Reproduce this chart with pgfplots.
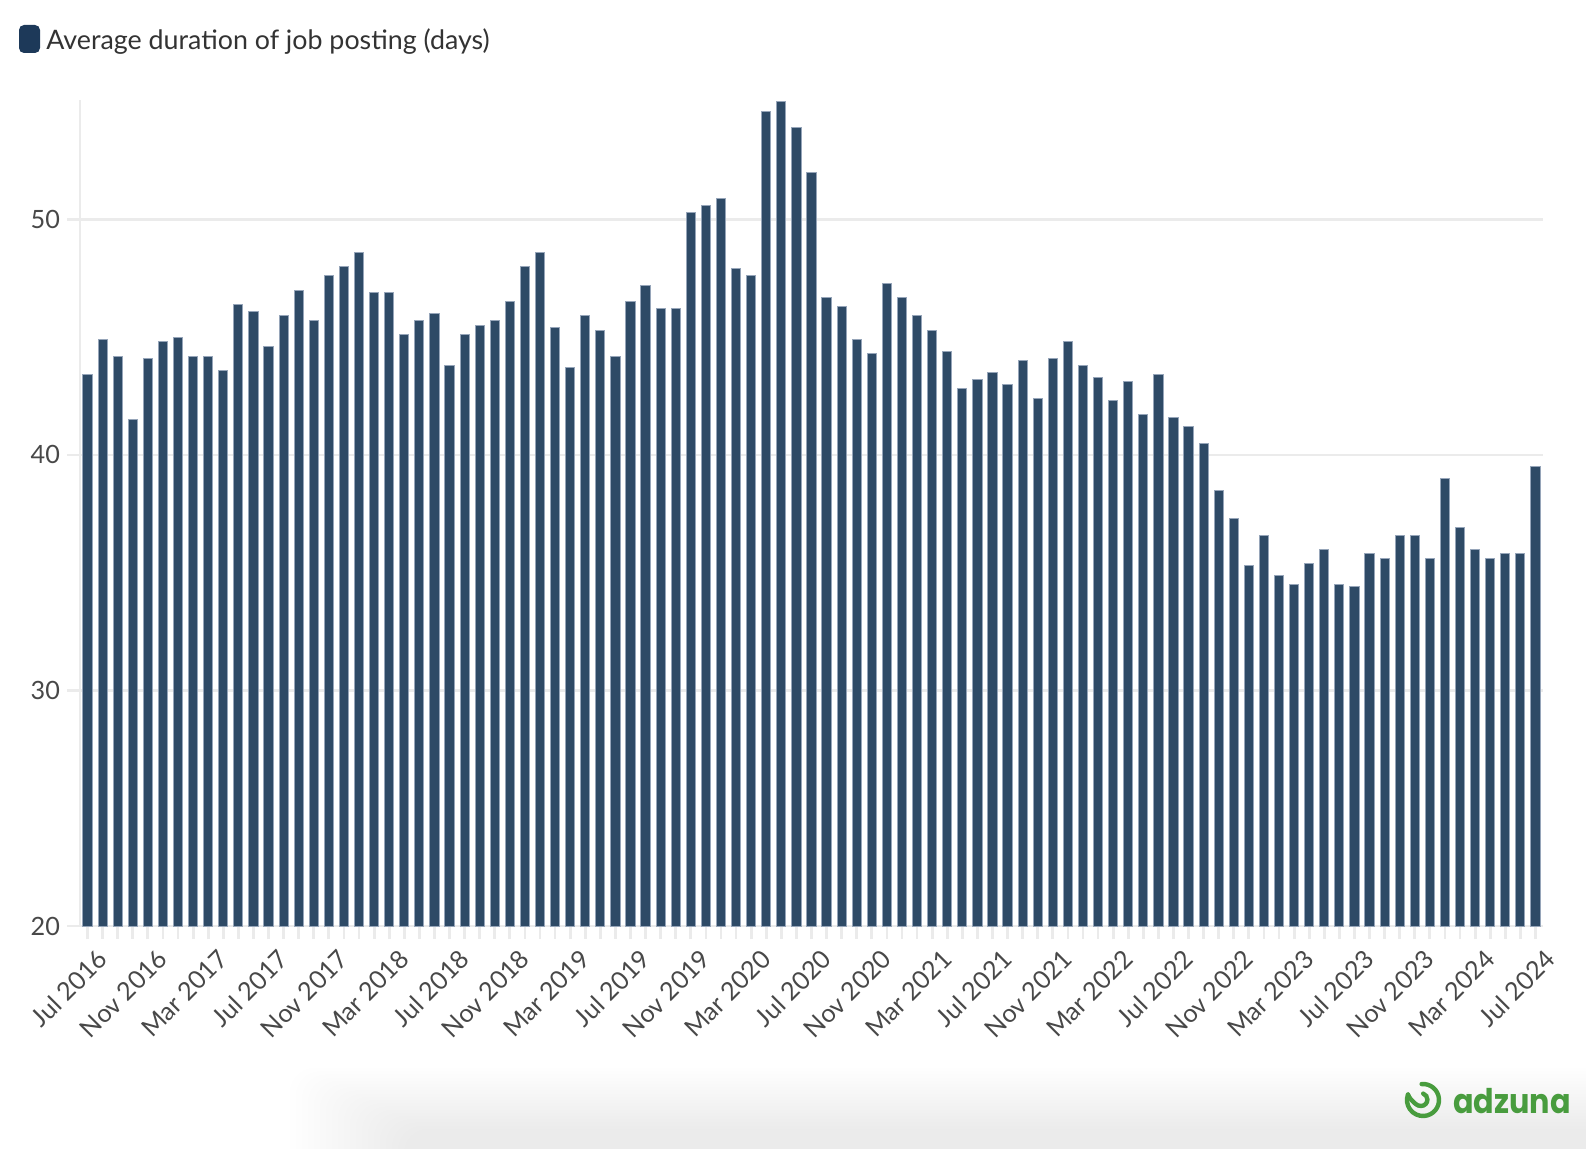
\documentclass[border=0pt]{standalone}
\usepackage{fontspec}
\setmainfont{Lato}
\newfontfamily\logofont{Poppins}[FakeStretch=0.89]
\usepackage{pgfplots}
\pgfplotsset{compat=1.18}
\definecolor{barnavy}{RGB}{46,74,102}
\definecolor{barborder}{RGB}{150,165,185}
\definecolor{legendnavy}{RGB}{29,57,89}
\definecolor{gridgray}{RGB}{235,235,235}
\definecolor{ticktext}{RGB}{72,72,72}
\definecolor{legendtext}{RGB}{51,51,51}
\definecolor{logogreen}{RGB}{72,156,62}
\begin{document}
\begin{tikzpicture}[x=1pt,y=1pt]
\useasboundingbox (0,0) rectangle (793,574);
% soft shadow at the bottom
\foreach \i in {0,...,19}{
  \fill[black, opacity=0.005, rounded corners=12pt] (145+3*\i,-20) rectangle (820,40-1.6*\i);
}
\begin{axis}[
  at={(40pt,111pt)}, anchor=south west,
  scale only axis, width=731.5pt, height=413pt,
  xmin=-0.5, xmax=96.5, ymin=20, ymax=55.07,
  ybar, bar width=4.6pt,
  axis lines*=left,
  axis line style={draw=gridgray, line width=1.4pt},
  ymajorgrids, grid style={draw=gridgray, line width=1.35pt},
  ytick={20,30,40,50},
  xtick={0,4,...,96},
  minor xtick={0,...,96},
  xticklabels={Jul 2016,Nov 2016,Mar 2017,Jul 2017,Nov 2017,Mar 2018,Jul 2018,Nov 2018,Mar 2019,Jul 2019,Nov 2019,Mar 2020,Jul 2020,Nov 2020,Mar 2021,Jul 2021,Nov 2021,Mar 2022,Jul 2022,Nov 2022,Mar 2023,Jul 2023,Nov 2023,Mar 2024,Jul 2024},
  tick align=outside,
  major tick length=6.5pt, minor tick length=6.5pt,
  tick style={draw=gridgray, line width=1.4pt},
  xticklabel style={rotate=45, anchor=north east, font=\fontsize{12.6}{13}\selectfont, text=ticktext, inner sep=1pt, yshift=-5pt, xshift=1pt},
  yticklabel style={font=\fontsize{12.6}{13}\selectfont, text=ticktext},
  /pgf/number format/assume math mode=true,
]
\addplot[fill=barnavy, draw=barborder, line width=0.5pt] table {
x y
0 43.4
1 44.9
2 44.2
3 41.5
4 44.1
5 44.8
6 45.0
7 44.2
8 44.2
9 43.6
10 46.4
11 46.1
12 44.6
13 45.9
14 47.0
15 45.7
16 47.6
17 48.0
18 48.6
19 46.9
20 46.9
21 45.1
22 45.7
23 46.0
24 43.8
25 45.1
26 45.5
27 45.7
28 46.5
29 48.0
30 48.6
31 45.4
32 43.7
33 45.9
34 45.3
35 44.2
36 46.5
37 47.2
38 46.2
39 46.2
40 50.3
41 50.6
42 50.9
43 47.9
44 47.6
45 54.6
46 55.0
47 53.9
48 52.0
49 46.7
50 46.3
51 44.9
52 44.3
53 47.3
54 46.7
55 45.9
56 45.3
57 44.4
58 42.8
59 43.2
60 43.5
61 43.0
62 44.0
63 42.4
64 44.1
65 44.8
66 43.8
67 43.3
68 42.3
69 43.1
70 41.7
71 43.4
72 41.6
73 41.2
74 40.5
75 38.5
76 37.3
77 35.3
78 36.6
79 34.9
80 34.5
81 35.4
82 36.0
83 34.5
84 34.4
85 35.8
86 35.6
87 36.6
88 36.6
89 35.6
90 39.0
91 36.9
92 36.0
93 35.6
94 35.8
95 35.8
96 39.5
};
\end{axis}
% legend
\fill[legendnavy, rounded corners=2.5pt] (9.5,547.5) rectangle (20,561.5);
\node[anchor=base west, inner sep=0pt, text=legendtext, font=\fontsize{13.4}{14}\selectfont] at (23,549.3) {Average duration of job posting (days)};
% logo
\begin{scope}[logogreen, line width=2.2pt, line cap=round]
\draw (711.5,24) ++(95:8) arc[start angle=95, end angle=-200, radius=8];
\draw (711.5,24) ++(160:8) .. controls +(-70:3) and +(-160:1.5) .. (710.5,21) arc[start angle=-90, end angle=70, radius=3.2];
\end{scope}
\node[anchor=base west, inner sep=0pt, text=logogreen, font=\logofont\bfseries\fontsize{17}{18}\selectfont] at (726.5,17.5) {adzuna};
\end{tikzpicture}
\end{document}
